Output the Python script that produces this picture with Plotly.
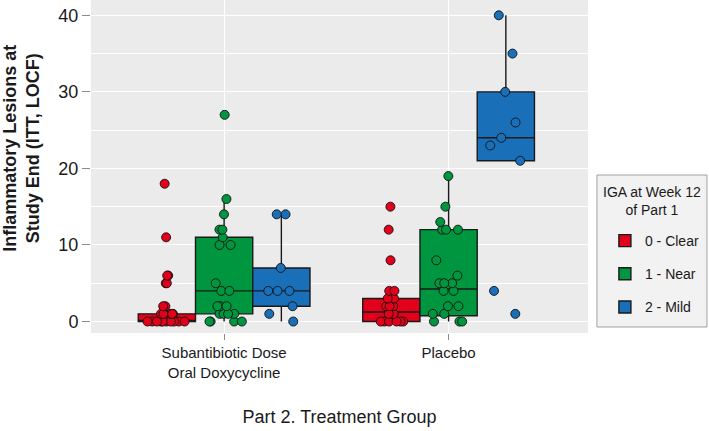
import plotly.graph_objects as go

# ---------------- data ----------------
categories = ["Subantibiotic Dose<br>Oral Doxycycline", "Placebo"]
iga_levels = ["0 - Clear", "1 - Near", "2 - Mild"]
legend_title = "IGA at Week 12<br>of Part 1"

# individual lesion counts (jittered points)
doxy_clear = [18, 11, 6, 6, 5, 5, 2, 2, 1, 1, 1, 1, 1, 1, 0, 0, 0, 0, 0, 0, 0, 0, 0, 0]
doxy_near = [27, 16, 14, 12, 12, 11, 10, 10, 5, 4, 4, 2, 2, 2, 1, 1, 1, 1, 0, 0, 0, 0]
doxy_mild = [14, 14, 7, 4, 4, 4, 2, 1, 0]
placebo_clear = [15, 12, 8, 4, 4, 3, 3, 2, 2, 2, 1, 1, 1, 0, 0, 0, 0, 0, 0]
placebo_near = [19, 15, 13, 12, 12, 12, 8, 6, 5, 5, 5, 4, 4, 2, 2, 1, 1, 0, 0, 0]
placebo_mild = [40, 35, 30, 26, 24, 23, 21, 4, 1]

# box summaries per category [doxycycline, placebo]
lower_clear = [0, 0]
q1_clear = [0, 0]
median_clear = [0, 1.25]
q3_clear = [1, 3]
upper_clear = [2, 4]

lower_near = [0, 0]
q1_near = [1, 0.75]
median_near = [4, 4.25]
q3_near = [11, 12]
upper_near = [16, 19]

lower_mild = [0, 21]
q1_mild = [2, 21]
median_mild = [4, 24]
q3_mild = [7, 30]
upper_mild = [14, 40]

y_ticks = [0, 10, 20, 30, 40]

# ---------------- style ----------------
colors = ["#E2001A", "#00963F", "#1A6FB9"]
FONT = "Liberation Sans, Arial, sans-serif"
cat_pos = [1, 2]
offsets = [-0.255, 0.0, 0.255]
box_w = 0.255

stats = [
    (lower_clear, q1_clear, median_clear, q3_clear, upper_clear),
    (lower_near, q1_near, median_near, q3_near, upper_near),
    (lower_mild, q1_mild, median_mild, q3_mild, upper_mild),
]
points = [
    [doxy_clear, placebo_clear],
    [doxy_near, placebo_near],
    [doxy_mild, placebo_mild],
]

fig = go.Figure()

# boxes
for i, level in enumerate(iga_levels):
    lo, q1, med, q3, up = stats[i]
    fig.add_trace(go.Box(
        x=[c + offsets[i] for c in cat_pos],
        q1=q1, median=med, q3=q3, lowerfence=lo, upperfence=up,
        width=box_w,
        fillcolor=colors[i],
        line=dict(color="#1a1a1a", width=1.4),
        whiskerwidth=0,
        boxpoints=False,
        name=level,
        legendgroup=level,
        showlegend=True,
    ))

# jittered points
for i, level in enumerate(iga_levels):
    for j, c in enumerate(cat_pos):
        vals = points[i][j]
        fig.add_trace(go.Box(
            x=[c + offsets[i]] * len(vals),
            y=vals,
            width=box_w,
            boxpoints="all",
            jitter=0.8,
            pointpos=0,
            fillcolor="rgba(0,0,0,0)",
            line=dict(color="rgba(0,0,0,0)", width=0),
            marker=dict(color=colors[i], size=9, line=dict(color="#111111", width=0.9)),
            name=level,
            legendgroup=level,
            showlegend=False,
            hoveron="points",
        ))

# y-axis title
fig.add_annotation(
    text="<b>Inflammatory Lesions at<br>Study End (ITT, LOCF)</b>",
    xref="paper", yref="paper", x=-0.139, y=0.556,
    xanchor="center", yanchor="middle", textangle=-90, showarrow=False,
    font=dict(family=FONT, size=18, color="#1a1a1a"),
)

# legend frame and title
fig.add_shape(
    type="rect", xref="paper", yref="paper",
    x0=1.018, x1=1.2394, y0=0.018, y1=0.4745,
    fillcolor="#F2F2F2", line=dict(color="#A0A0A0", width=1), layer="below",
)
fig.add_annotation(
    text=legend_title, xref="paper", yref="paper", x=1.1288, y=0.3964,
    xanchor="center", yanchor="middle", showarrow=False, align="center",
    font=dict(family=FONT, size=14, color="#1a1a1a"),
)

fig.update_layout(
    width=709, height=431,
    margin=dict(l=91, r=121, t=0, b=98, autoexpand=False),
    paper_bgcolor="white",
    plot_bgcolor="#EBEBEB",
    boxmode="overlay",
    font=dict(family=FONT, size=15, color="#1a1a1a"),
    legend=dict(
        font=dict(family=FONT, size=14, color="#1a1a1a"),
        x=1.034, xanchor="left", y=0.3243, yanchor="top",
        bgcolor="rgba(0,0,0,0)", borderwidth=0,
        tracegroupgap=12,
    ),
    xaxis=dict(
        range=[0.407, 2.621], automargin=False,
        tickmode="array", tickvals=cat_pos, ticktext=categories,
        showgrid=True, gridcolor="white", gridwidth=1.3,
        zeroline=False, showline=False,
        ticks="outside", ticklen=6, tickwidth=1.2, tickcolor="#8C8C8C",
        tickfont=dict(family=FONT, size=15, color="#1a1a1a"),
        title=dict(text="Part 2. Treatment Group", standoff=30,
                   font=dict(family=FONT, size=18, color="#1a1a1a")),
    ),
    yaxis=dict(
        range=[-1.5, 42.0], automargin=False,
        tickmode="array", tickvals=y_ticks,
        showgrid=True, gridcolor="white", gridwidth=1.3,
        minor=dict(tickvals=[5, 15, 25, 35], showgrid=True, gridcolor="white", gridwidth=0.6),
        zeroline=False, showline=False,
        ticks="outside", ticklen=8, tickwidth=1.2, tickcolor="#8C8C8C",
        tickfont=dict(family=FONT, size=18, color="#1a1a1a"),
    ),
)

fig.write_html("out.html", config={"displayModeBar": False},
               post_script="document.body.style.margin='0';")
